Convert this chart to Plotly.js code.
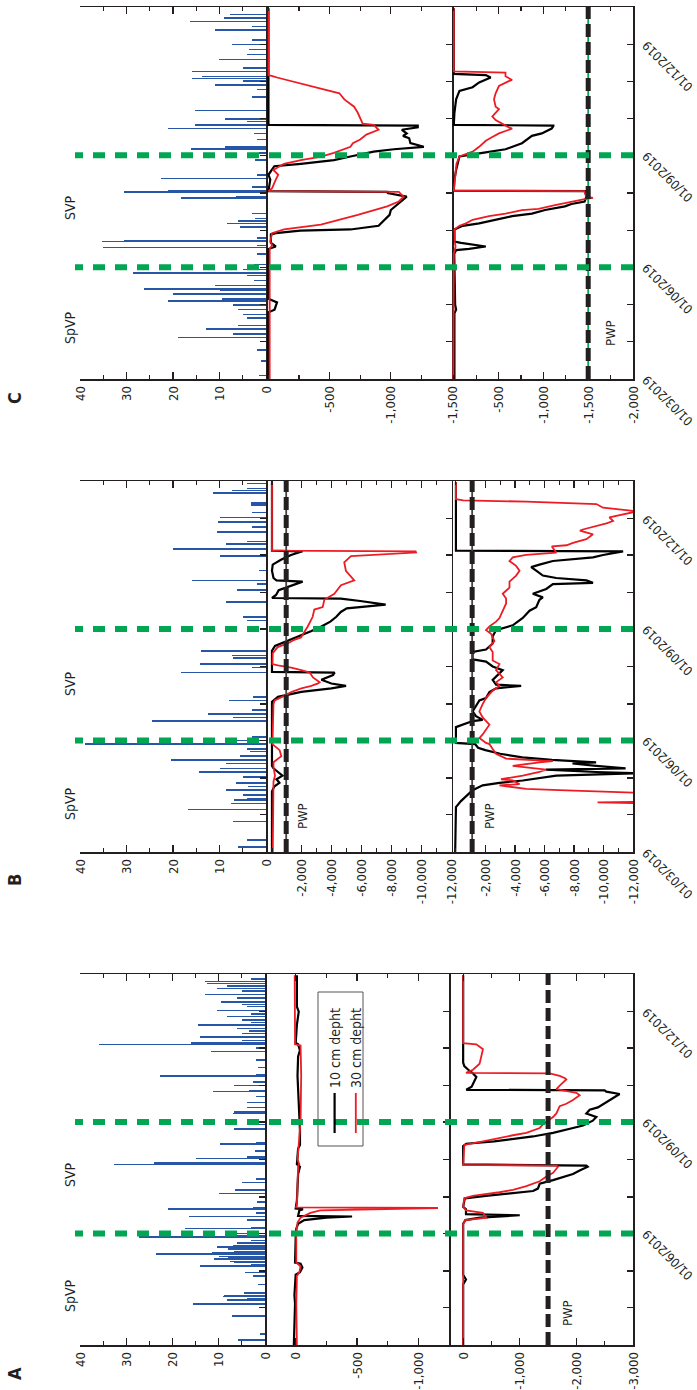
<!DOCTYPE html>
<html><head><meta charset="utf-8">
<script src="https://cdn.plot.ly/plotly-3.0.1.min.js"></script>
<style>
html,body{margin:0;padding:0;width:697px;height:1390px;overflow:hidden;background:#fff;}
#chart{position:absolute;left:0;top:0;width:1390px;height:697px;transform-origin:0 0;transform:translate(0px,1390px) rotate(-90deg);}
</style></head><body><div id="chart"></div>
<script>
// ---------------- DATA ----------------
const monthTicks = ['2019-03-01','2019-04-01','2019-05-01','2019-06-01','2019-07-01','2019-08-01','2019-09-01','2019-10-01','2019-11-01','2019-12-01','2020-01-01'];
const dateTickVals = ['2019-03-01','2019-06-01','2019-09-01','2019-12-01'];
const dateTickText = ['01/03/2019','01/06/2019','01/09/2019','01/12/2019'];
const periodDates = ['2019-06-01','2019-09-01'];
const periodLabels = ['SpVP','SVP'];

const rainTickVals = [0,10,20,30,40];
const rainTickText = ['0','10','20','30','40'];
const aMidTickVals = [0,-500,-1000];
const aMidTickText = ['0','-500','-1,000'];
const aBotTickVals = [0,-1000,-2000,-3000];
const aBotTickText = ['0','-1,000','-2,000','-3,000'];
const bTickVals = [-2000,-4000,-6000,-8000,-10000,-12000];
const bTickText = ['-2,000','-4,000','-6,000','-8,000','-10,000','-12,000'];
const cMidTickVals = [-500,-1000,-1500];
const cMidTickText = ['-500','-1,000','-1,500'];
const cBotTickVals = [-500,-1000,-1500,-2000];
const cBotTickText = ['-500','-1,000','-1,500','-2,000'];

// PWP reference values (kPa) as drawn
const pwpA_bot = -1500;
const pwpB_mid = -950;
const pwpB_bot = -1100;
const pwpC_bot = -1500;

// Rain (mm)
const rainA_dates = ['2019-03-05','2019-03-10','2019-03-25','2019-04-04','2019-04-07','2019-04-08','2019-04-10','2019-04-11','2019-04-13','2019-04-20','2019-04-27','2019-04-30','2019-05-05','2019-05-06','2019-05-08','2019-05-09','2019-05-11','2019-05-12','2019-05-13','2019-05-15','2019-05-16','2019-05-17','2019-05-19','2019-05-21','2019-05-22','2019-05-24','2019-05-26','2019-05-29','2019-05-30','2019-06-01','2019-06-05','2019-06-06','2019-06-12','2019-06-15','2019-06-18','2019-06-21','2019-06-22','2019-06-27','2019-07-04','2019-07-07','2019-07-13','2019-07-16','2019-07-28','2019-07-29','2019-08-02','2019-08-03','2019-08-08','2019-08-14','2019-08-15','2019-08-26','2019-08-30','2019-09-08','2019-09-09','2019-09-13','2019-09-17','2019-09-22','2019-09-26','2019-09-27','2019-10-01','2019-10-04','2019-10-09','2019-10-10','2019-10-16','2019-10-22','2019-10-29','2019-11-01','2019-11-04','2019-11-05','2019-11-07','2019-11-10','2019-11-13','2019-11-15','2019-11-17','2019-11-20','2019-11-22','2019-11-24','2019-11-27','2019-11-29','2019-12-02','2019-12-05','2019-12-07','2019-12-09','2019-12-12','2019-12-15','2019-12-18','2019-12-20','2019-12-22','2019-12-24','2019-12-26','2019-12-28'];
const rainA_mm = [5.8,1.0,7.2,15.6,8.3,4.0,9.1,8.8,4.5,1.5,2.5,4.3,14.0,3.0,6.8,7.5,11.0,8.0,10.0,23.5,11.5,6.8,8.0,10.4,7.0,6.0,3.0,27.3,7.0,6.8,17.4,3.0,4.0,16.5,2.0,20.9,2.5,1.8,10.0,6.5,5.0,2.0,32.7,23.9,14.9,4.0,2.2,9.7,2.0,6.6,2.0,7.0,6.8,4.0,3.8,2.0,11.3,3.5,6.8,2.5,22.7,2.0,1.5,2.0,11.7,2.0,36.0,16.0,5.0,14.0,5.0,3.5,6.0,14.4,3.0,5.0,8.3,3.0,10.4,4.0,5.0,9.6,6.0,13.0,5.0,10.4,8.2,12.6,13.0,3.0];

const rainB_dates = ['2019-03-05','2019-03-11','2019-03-26','2019-04-05','2019-04-10','2019-04-13','2019-04-14','2019-04-17','2019-04-21','2019-04-24','2019-04-27','2019-05-02','2019-05-06','2019-05-09','2019-05-13','2019-05-16','2019-05-19','2019-05-23','2019-05-25','2019-05-29','2019-06-01','2019-06-04','2019-06-17','2019-06-20','2019-06-23','2019-06-26','2019-07-04','2019-07-07','2019-07-27','2019-07-31','2019-08-03','2019-08-08','2019-08-10','2019-08-14','2019-09-08','2019-09-11','2019-09-23','2019-10-03','2019-10-08','2019-10-11','2019-10-19','2019-10-31','2019-11-06','2019-11-10','2019-11-12','2019-11-20','2019-11-24','2019-11-28','2019-12-02','2019-12-06','2019-12-12','2019-12-14','2019-12-22','2019-12-24','2019-12-26','2019-12-30'];
const rainB_mm = [6.0,4.0,7.0,16.8,7.5,6.8,4.0,5.0,8.5,3.8,6.5,5.0,14.4,10.0,8.5,20.4,5.5,3.5,4.0,38.9,6.5,3.0,24.6,7.0,12.5,3.0,8.0,2.7,18.2,3.0,14.3,7.0,7.4,14.0,4.0,5.0,8.6,6.3,2.0,15.9,1.5,10.0,19.9,8.5,4.0,10.5,3.0,10.3,10.0,3.0,3.2,3.2,11.4,7.4,4.0,4.0];

const rainC_dates = ['2019-03-04','2019-03-16','2019-03-25','2019-04-04','2019-04-07','2019-04-11','2019-04-14','2019-04-20','2019-04-23','2019-04-27','2019-05-01','2019-05-04','2019-05-06','2019-05-10','2019-05-13','2019-05-14','2019-05-17','2019-05-21','2019-05-25','2019-05-27','2019-05-30','2019-06-03','2019-06-12','2019-06-17','2019-06-19','2019-06-22','2019-06-23','2019-06-25','2019-07-04','2019-07-07','2019-07-09','2019-07-11','2019-07-15','2019-07-28','2019-07-29','2019-08-02','2019-08-03','2019-08-06','2019-08-13','2019-08-16','2019-08-28','2019-09-03','2019-09-06','2019-09-08','2019-09-14','2019-09-19','2019-09-23','2019-09-26','2019-09-29','2019-10-01','2019-10-08','2019-10-19','2019-10-25','2019-10-29','2019-11-01','2019-11-03','2019-11-05','2019-11-09','2019-11-12','2019-11-19','2019-11-23','2019-11-27','2019-12-01','2019-12-05','2019-12-13','2019-12-16','2019-12-20','2019-12-23','2019-12-26'];
const rainC_mm = [1.5,1.0,2.0,18.9,7.0,12.8,6.0,4.0,5.0,6.0,7.0,21.0,9.5,19.9,10.0,26.2,11.0,2.6,4.0,28.7,5.0,2.5,2.0,35.0,2.0,35.2,30.5,2.0,5.5,8.4,6.0,2.3,3.0,18.3,6.5,30.5,21.1,3.0,22.5,2.0,2.3,1.5,16.2,8.8,2.0,2.5,21.1,15.3,4.0,8.8,15.3,3.1,2.0,11.0,5.0,16.0,13.8,16.0,5.0,10.2,4.0,3.7,7.3,3.0,11.0,3.0,16.4,9.0,7.8];

// Soil water potential (kPa) - panel A
const A_mid10_dates = ['2019-03-01','2019-03-20','2019-04-04','2019-04-11','2019-04-28','2019-04-30','2019-05-04','2019-05-07','2019-05-08','2019-05-28','2019-06-05','2019-06-09','2019-06-12','2019-06-14','2019-06-15','2019-06-15 12:00','2019-06-20','2019-06-21','2019-06-21 12:00','2019-06-28','2019-07-20','2019-07-26','2019-07-28','2019-08-10','2019-08-13','2019-08-25','2019-09-10','2019-09-26','2019-10-09','2019-10-25','2019-10-30','2019-11-04','2019-11-05','2019-11-20','2019-12-01','2019-12-05','2019-12-31'];
const A_mid10_kPa = [15,10,5,10,0,-35,-55,-40,5,0,-5,-20,-70,-250,-460,-20,-30,-60,0,-10,-20,-35,-10,-20,-35,-35,-30,-20,-15,-20,-35,-20,0,-10,-25,-10,-10];
const A_mid30_dates = ['2019-03-01','2019-04-04','2019-04-27','2019-04-30','2019-05-05','2019-05-08','2019-06-01','2019-06-10','2019-06-14','2019-06-18','2019-06-20','2019-06-21','2019-06-22','2019-06-22 12:00','2019-06-24','2019-07-27','2019-07-28','2019-08-01','2019-09-01','2019-10-10','2019-11-03','2019-11-04','2019-12-31'];
const A_mid30_kPa = [-10,-5,-10,-30,-40,-5,-5,-15,-40,-120,-200,-600,-1160,0,-10,-20,-30,-15,-40,-45,-40,5,8];
const A_bot10_dates = ['2019-03-01','2019-04-20','2019-04-24','2019-04-28','2019-06-09','2019-06-12','2019-06-14','2019-06-16','2019-06-17','2019-06-21','2019-06-23','2019-06-30','2019-07-02','2019-07-04','2019-07-06','2019-07-08','2019-07-12','2019-07-15','2019-07-18','2019-07-20','2019-07-23','2019-07-26','2019-07-27','2019-07-28','2019-08-12','2019-08-14','2019-08-16','2019-08-18','2019-08-20','2019-08-21','2019-08-23','2019-08-27','2019-08-29','2019-09-02','2019-09-05','2019-09-08','2019-09-11','2019-09-13','2019-09-17','2019-09-22','2019-09-24','2019-09-26','2019-09-27','2019-09-27 12:00','2019-09-30','2019-10-08','2019-10-11','2019-10-14','2019-10-17','2019-10-20','2019-12-31'];
const A_bot10_kPa = [0,0,-50,0,0,-40,-300,-1000,-50,-50,0,-30,-400,-880,-1234,-1320,-1352,-1588,-1823,-1940,-2058,-2200,-2176,0,0,-55,-550,-940,-1234,-1352,-1588,-1940,-2117,-2290,-2352,-2176,-2235,-2380,-2528,-2705,-2764,-2528,-2500,-55,-150,-233,-174,-90,-20,0,0];
const A_bot30_dates = ['2019-03-01','2019-06-09','2019-06-12','2019-06-14','2019-06-16','2019-06-18','2019-06-20','2019-06-23','2019-06-30','2019-07-02','2019-07-05','2019-07-07','2019-07-10','2019-07-14','2019-07-18','2019-07-21','2019-07-26','2019-07-27','2019-07-27 12:00','2019-08-13','2019-08-16','2019-08-19','2019-08-21','2019-08-23','2019-08-27','2019-08-30','2019-09-05','2019-09-08','2019-09-14','2019-09-16','2019-09-19','2019-09-23','2019-09-25','2019-09-28','2019-10-01','2019-10-06','2019-10-07','2019-10-09','2019-10-11','2019-10-11 12:00','2019-10-14','2019-10-19','2019-10-31','2019-11-04','2019-11-05','2019-12-31'];
const A_bot30_kPa = [0,0,-40,-410,-380,-350,-50,0,-20,-170,-640,-880,-1116,-1352,-1470,-1588,-1676,-1647,0,-20,-350,-644,-880,-1116,-1352,-1411,-1588,-1647,-1705,-1823,-1940,-2058,-2000,-1647,-1705,-1823,-1800,-1705,-1530,-50,-174,-290,-350,-233,0,0];

// Panel B
const B_mid10_dates = ['2019-03-01','2019-04-20','2019-04-24','2019-04-27','2019-04-30','2019-05-03','2019-05-06','2019-05-09','2019-05-11','2019-07-03','2019-07-07','2019-07-11','2019-07-14','2019-07-16','2019-07-18','2019-07-21','2019-07-25','2019-07-27','2019-07-27 12:00','2019-08-14','2019-08-18','2019-08-22','2019-08-26','2019-08-30','2019-09-03','2019-09-07','2019-09-11','2019-09-15','2019-09-18','2019-09-21','2019-09-24','2019-09-26','2019-09-26 12:00','2019-09-29','2019-10-03','2019-10-10','2019-10-11','2019-10-13','2019-10-19','2019-10-24','2019-10-28','2019-11-01','2019-11-04','2019-11-04 12:00','2019-12-31'];
const B_mid10_kPa = [0,0,-150,-500,-300,-700,-400,-100,0,0,-400,-1960,-3970,-4950,-3970,-3300,-4080,-4190,0,0,-200,-1000,-1900,-2600,-3300,-3900,-4300,-4600,-5000,-7600,-5900,-4600,0,-270,-450,-2050,-300,-100,0,-50,-600,-1270,-2050,0,0];
const B_mid30_dates = ['2019-03-01','2019-04-20','2019-04-28','2019-05-03','2019-05-10','2019-05-14','2019-05-16','2019-05-19','2019-05-24','2019-05-28','2019-05-29','2019-07-01','2019-07-04','2019-07-08','2019-07-11','2019-07-14','2019-07-16','2019-07-18','2019-07-19','2019-07-23','2019-07-27','2019-07-29','2019-07-31','2019-08-02','2019-08-03','2019-08-12','2019-08-17','2019-08-20','2019-08-23','2019-08-25','2019-09-03','2019-09-11','2019-09-17','2019-09-19','2019-09-25','2019-09-30','2019-10-07','2019-10-11','2019-10-19','2019-10-26','2019-10-31','2019-11-03','2019-11-04','2019-11-04 12:00','2019-12-31'];
const B_mid30_kPa = [-50,-50,-100,-200,-100,-100,-300,-625,-510,-180,-30,-100,-180,-850,-1290,-1960,-2630,-3080,-3190,-2740,-2520,-1960,-1290,-400,-30,-50,-380,-1050,-1490,-1940,-2390,-2720,-2830,-3390,-3500,-4170,-4610,-5500,-4940,-4830,-5280,-9630,-9600,0,0];
const B_bot10_dates = ['2019-03-01','2019-04-07','2019-04-12','2019-04-21','2019-04-25','2019-04-27','2019-04-29','2019-05-02','2019-05-03','2019-05-05','2019-05-06','2019-05-08','2019-05-09','2019-05-11','2019-05-13','2019-05-14','2019-05-16','2019-05-18','2019-05-21','2019-05-24','2019-05-26','2019-05-29','2019-05-30','2019-06-12','2019-06-13','2019-06-17','2019-06-18','2019-06-21','2019-06-25','2019-06-29','2019-07-04','2019-07-06','2019-07-11','2019-07-14','2019-07-16','2019-07-17','2019-07-21','2019-07-29','2019-08-01','2019-08-05','2019-08-07','2019-08-13','2019-08-15','2019-08-20','2019-08-26','2019-08-31','2019-09-04','2019-09-10','2019-09-16','2019-09-19','2019-09-25','2019-09-27','2019-09-30','2019-10-04','2019-10-08','2019-10-09','2019-10-11','2019-10-13','2019-10-15','2019-10-19','2019-10-22','2019-10-24','2019-10-27','2019-10-30','2019-11-01','2019-11-04','2019-11-04 12:00','2019-12-31'];
const B_bot10_kPa = [50,0,-340,-1130,-1810,-2950,-4530,-6120,-6800,-12500,-9500,-6100,-11500,-9500,-7900,-9500,-6500,-4500,-3000,-2000,-1500,-1300,0,0,-230,-1130,-1810,-1360,-1130,-1360,-1590,-2040,-2270,-2720,-4420,-2720,-2490,-3170,-2490,-2040,-1130,-1130,-2040,-2490,-2490,-2720,-3850,-4530,-4990,-5440,-5660,-5890,-5210,-6120,-6570,-9290,-8840,-6800,-5890,-5440,-5100,-5660,-6570,-9290,-9970,-11330,0,0];
const B_bot30_dates = ['2019-03-01','2019-04-10','2019-04-11','2019-04-11 12:00','2019-04-18','2019-04-19','2019-04-21','2019-04-22','2019-04-25','2019-04-26','2019-04-29','2019-04-30','2019-05-03','2019-05-06','2019-05-08','2019-05-10','2019-05-11','2019-05-14','2019-05-15','2019-05-17','2019-05-21','2019-05-25','2019-05-29','2019-05-30','2019-06-03','2019-06-06','2019-06-14','2019-06-20','2019-06-25','2019-07-01','2019-07-06','2019-07-12','2019-07-16','2019-07-19','2019-07-23','2019-07-29','2019-08-03','2019-08-06','2019-08-13','2019-08-17','2019-08-22','2019-08-28','2019-08-31','2019-09-03','2019-09-07','2019-09-10','2019-09-16','2019-09-22','2019-09-26','2019-09-30','2019-10-05','2019-10-10','2019-10-15','2019-10-19','2019-10-23','2019-10-27','2019-10-30','2019-11-01','2019-11-03','2019-11-08','2019-11-09','2019-11-11','2019-11-14','2019-11-18','2019-11-21','2019-11-22','2019-11-27','2019-11-29','2019-12-02','2019-12-07','2019-12-10','2019-12-13','2019-12-15','2019-12-16','2019-12-17','2019-12-31'];
const B_bot30_kPa = [-13500,-13500,-9600,-13500,-13500,-12000,-7000,-4760,-2950,-4310,-3850,-3060,-4530,-5660,-6120,-4760,-3850,-5660,-6570,-3400,-2720,-2490,-2270,-2040,-1590,-1810,-2270,-1810,-1590,-1810,-2040,-2490,-2950,-2720,-3170,-2720,-2950,-2490,-2490,-2270,-2610,-2380,-2040,-2270,-2720,-2950,-3170,-3400,-3400,-3170,-3630,-3630,-4080,-4310,-4080,-3630,-3850,-4760,-6800,-6500,-7500,-7930,-8840,-9290,-8400,-8600,-10200,-10650,-10400,-12300,-9970,-9520,-4760,-500,0,0];

// Panel C
const C_mid10_dates = ['2019-03-01','2019-04-25','2019-04-27','2019-05-03','2019-05-06','2019-06-16','2019-06-18','2019-06-21','2019-06-28','2019-06-29','2019-07-01','2019-07-02','2019-07-05','2019-07-10','2019-07-14','2019-07-18','2019-07-23','2019-07-26','2019-07-29','2019-08-01','2019-08-02','2019-08-02 12:00','2019-08-12','2019-08-16','2019-08-20','2019-08-23','2019-08-25','2019-08-28','2019-08-31','2019-09-04','2019-09-06','2019-09-08','2019-09-11','2019-09-15','2019-09-17','2019-09-19','2019-09-22','2019-09-24','2019-09-25 12:00','2019-09-26','2019-12-31'];
const C_mid10_kPa = [0,0,-50,-70,0,0,-60,-20,-20,-60,-260,-670,-900,-950,-990,-1000,-1060,-1100,-1130,-970,-980,0,-15,0,-30,-48,-265,-535,-670,-860,-1025,-1270,-1160,-1150,-1100,-1130,-1090,-1220,-1220,0,0];
const C_mid30_dates = ['2019-03-01','2019-06-16','2019-06-19','2019-06-22','2019-06-29','2019-07-02','2019-07-06','2019-07-10','2019-07-14','2019-07-21','2019-07-25','2019-07-29','2019-08-02','2019-08-02 12:00','2019-08-05','2019-08-12','2019-08-16','2019-08-20','2019-08-25','2019-08-28','2019-08-31','2019-09-03','2019-09-06','2019-09-08','2019-09-11','2019-09-14','2019-09-18','2019-09-22','2019-09-26','2019-09-27','2019-10-06','2019-10-11','2019-10-17','2019-10-22','2019-10-25','2019-10-30','2019-11-02','2019-11-04','2019-11-05','2019-11-06','2019-12-31'];
const C_mid30_kPa = [-10,-10,-30,-15,-30,-127,-428,-590,-730,-970,-1065,-1105,-1065,0,-30,-60,-80,-40,-127,-265,-430,-535,-620,-670,-690,-750,-800,-900,-860,-770,-730,-700,-620,-580,-460,-260,-130,-70,-40,0,0];
const C_bot10_dates = ['2019-03-01','2019-04-24','2019-04-27','2019-05-01','2019-06-12','2019-06-15','2019-06-16','2019-06-18','2019-06-21','2019-06-22','2019-07-02','2019-07-05','2019-07-07','2019-07-10','2019-07-13','2019-07-15','2019-07-18','2019-07-21','2019-07-23','2019-07-25','2019-07-29','2019-08-01','2019-08-02 12:00','2019-08-03','2019-08-12','2019-08-20','2019-08-31','2019-09-03','2019-09-06','2019-09-11','2019-09-17','2019-09-19','2019-09-23','2019-09-25','2019-09-25 12:00','2019-09-26','2019-10-06','2019-10-17','2019-10-24','2019-10-27','2019-10-31','2019-11-04','2019-11-06','2019-11-07','2019-12-31'];
const C_bot10_kPa = [-7,-7,-26,-15,-5,-26,-170,-357,-80,-7,-7,-100,-283,-467,-651,-872,-1019,-1240,-1313,-1460,-1479,-1470,-1470,0,-7,-26,-63,-320,-577,-761,-872,-982,-1092,-1111,-1111,0,-7,-26,-63,-210,-283,-412,-357,0,0];
const C_bot30_dates = ['2019-03-01','2019-06-12','2019-06-18','2019-06-22','2019-07-02','2019-07-05','2019-07-07','2019-07-10','2019-07-13','2019-07-15','2019-07-18','2019-07-19','2019-07-22','2019-07-25','2019-07-27','2019-07-28','2019-07-29','2019-08-02','2019-08-02 12:00','2019-08-03','2019-08-12','2019-08-25','2019-08-31','2019-09-04','2019-09-08','2019-09-13','2019-09-16','2019-09-19','2019-09-21','2019-09-23','2019-09-24','2019-09-27','2019-09-30','2019-10-03','2019-10-06','2019-10-09','2019-10-11','2019-10-17','2019-10-22','2019-10-28','2019-11-01','2019-11-02','2019-11-05','2019-11-08','2019-11-09','2019-12-31'];
const C_bot30_kPa = [5,0,-20,-10,-7,-63,-136,-210,-394,-577,-761,-945,-1130,-1313,-1460,-1553,-1479,-1460,-1460,0,-15,-30,-63,-210,-283,-357,-430,-504,-577,-651,-614,-541,-467,-430,-467,-504,-467,-449,-467,-504,-614,-651,-577,-577,0,0];

// ---------------- STYLE / LAYOUT ----------------
const W = 1390, H = 697;
const px = X => X / W;
const py = Y => 1 - Y / H;
const FONT = "'Liberation Sans Narrow','Arial Narrow','DejaVu Sans Condensed',sans-serif";
const INK = '#231f20';
const BLUE = '#2856a6';
const RED = '#ed1c24';
const GREEN = '#00a651';
const DAY = 86400000;

const panels = [
  {x0:45, x1:416, rain:[80,265], mid:[265,449], bot:[449,633], midR:[-1250,250], botR:[-3000,250],
   midT:[aMidTickVals,aMidTickText,250], botT:[aBotTickVals,aBotTickText,500], letter:'A', letterX:16,
   rainD:[rainA_dates,rainA_mm], mid10:[A_mid10_dates,A_mid10_kPa], mid30:[A_mid30_dates,A_mid30_kPa],
   bot10:[A_bot10_dates,A_bot10_kPa], bot30:[A_bot30_dates,A_bot30_kPa],
   labels:['2019-04-11','2019-07-20'], pwp:[[null,null],[pwpA_bot,'2019-03-27',-1840]], pwpUnder:null},
  {x0:538, x1:909, rain:[80,266], mid:[266,451.5], bot:[451.5,633], midR:[-12000,400], botR:[-12000,300],
   midT:[bTickVals,bTickText,1000], botT:[bTickVals,bTickText,1000], letter:'B', letterX:510,
   rainD:[rainB_dates,rainB_mm], mid10:[B_mid10_dates,B_mid10_kPa], mid30:[B_mid30_dates,B_mid30_kPa],
   bot10:[B_bot10_dates,B_bot10_kPa], bot30:[B_bot30_dates,B_bot30_kPa],
   labels:['2019-04-10','2019-07-18'], pwp:[[pwpB_mid,'2019-03-31',-2070],[pwpB_bot,'2019-03-31',-2270]], pwpUnder:'#444'},
  {x0:1011, x1:1383, rain:[80,266], mid:[266,452], bot:[452,633], midR:[-1500,20], botR:[-2000,20],
   midT:[cMidTickVals,cMidTickText,250], botT:[cBotTickVals,cBotTickText,250], letter:'C', letterX:992,
   rainD:[rainC_dates,rainC_mm], mid10:[C_mid10_dates,C_mid10_kPa], mid30:[C_mid30_dates,C_mid30_kPa],
   bot10:[C_bot10_dates,C_bot10_kPa], bot30:[C_bot30_dates,C_bot30_kPa],
   labels:['2019-04-12','2019-07-20'], pwp:[[null,null],[pwpC_bot,'2019-04-08',-1745]], pwpUnder:GREEN}
];

const sfx = n => n === 1 ? '' : String(n);
const tickFont = {family:FONT, size:13, color:INK};
const layout = {
  width:W, height:H, margin:{l:0,r:0,t:0,b:0}, paper_bgcolor:'#fff', plot_bgcolor:'rgba(0,0,0,0)',
  showlegend:true, bargap:0,
  legend:{x:px(252), y:py(319), xanchor:'left', yanchor:'top', bgcolor:'rgba(0,0,0,0)', borderwidth:0,
          font:{family:FONT, size:14, color:INK}, itemwidth:40, tracegroupgap:0},
  shapes:[], annotations:[]
};
const traces = [];
const monthText = monthTicks.map(d => { const i = dateTickVals.indexOf(d); return i >= 0 ? dateTickText[i] : ''; });

// legend box
layout.shapes.push({type:'rect', xref:'paper', yref:'paper', x0:px(244), x1:px(398), y0:py(363), y1:py(318),
  line:{color:'#555', width:1}, fillcolor:'#fff', layer:'above'});

panels.forEach((P, p) => {
  const nR = 3*p+1, nM = 3*p+2, nB = 3*p+3;
  const rows = [[nR, P.rain, [0,40], [rainTickVals, rainTickText, 5]],
                [nM, P.mid, P.midR, P.midT],
                [nB, P.bot, P.botR, P.botT]];
  rows.forEach(([n, yd, yr, tk], s) => {
    layout['xaxis'+sfx(n)] = {
      type:'date', domain:[px(P.x0), px(P.x1)], range:['2019-03-01','2020-01-01'], anchor:'y'+sfx(n),
      showline:true, linecolor:INK, linewidth:1.5, mirror:false,
      ticks:'inside', ticklen:6, tickwidth:1.2, tickcolor:INK,
      tickmode:'array', tickvals:monthTicks, ticktext:monthText,
      showticklabels: s === 2, tickangle:-45, tickfont:{family:FONT, size:12.5, color:INK},
      showgrid:false, zeroline:false, fixedrange:true
    };
    layout['yaxis'+sfx(n)] = {
      domain:[py(yd[1]), py(yd[0])], range:yr, anchor:'x'+sfx(n),
      showline:true, mirror:'ticks', linecolor:INK, linewidth:1.5,
      ticks:'inside', ticklen:7, tickwidth:1.2, tickcolor:INK,
      tickmode:'array', tickvals:tk[0], ticktext:tk[1], tickfont:tickFont, ticklabelstandoff:3,
      minor:{dtick:tk[2], tick0:0, ticks:'inside', ticklen:4, tickwidth:1.1, tickcolor:INK, showgrid:false},
      showgrid:false, zeroline:false, fixedrange:true
    };
  });
  // rain bars
  traces.push({type:'bar', x:P.rainD[0], y:P.rainD[1], xaxis:'x'+sfx(nR), yaxis:'y'+sfx(nR),
    width:P.rainD[0].map(() => 1.25*DAY), marker:{color:BLUE, line:{width:0}}, showlegend:false, hoverinfo:'skip'});
  // lines
  [[nM, P.mid10, P.mid30], [nB, P.bot10, P.bot30]].forEach(([n, l10, l30], k) => {
    const lg = (p === 0 && k === 0);
    traces.push({type:'scatter', mode:'lines', x:l10[0], y:l10[1], xaxis:'x'+sfx(n), yaxis:'y'+sfx(n),
      line:{color:'#000', width:2.2}, name:'10 cm depht', showlegend:lg, hoverinfo:'skip'});
    traces.push({type:'scatter', mode:'lines', x:l30[0], y:l30[1], xaxis:'x'+sfx(n), yaxis:'y'+sfx(n),
      line:{color:RED, width:1.8}, name:'30 cm depht', showlegend:lg, hoverinfo:'skip'});
  });
  // PWP lines and labels
  [[nM, P.pwp[0]], [nB, P.pwp[1]]].forEach(([n, pw]) => {
    if (pw[0] === null) return;
    if (P.pwpUnder) layout.shapes.push({type:'line', xref:'x'+sfx(n)+' domain', yref:'y'+sfx(n), x0:0, x1:1, y0:pw[0], y1:pw[0],
      line:{color:P.pwpUnder, width:1.8}, layer:'above'});
    layout.shapes.push({type:'line', xref:'x'+sfx(n)+' domain', yref:'y'+sfx(n), x0:0, x1:1, y0:pw[0], y1:pw[0],
      line:{color:INK, width:5, dash:'13px,5px'}, layer:'above'});
    layout.annotations.push({xref:'x'+sfx(n), yref:'y'+sfx(n), x:pw[1], y:pw[2], text:'PWP', showarrow:false,
      xanchor:'center', yanchor:'middle', font:{family:FONT, size:13, color:INK}});
  });
  // green period separators
  periodDates.forEach(d => layout.shapes.push({type:'line', xref:'x'+sfx(nB), yref:'paper', x0:d, x1:d,
    y0:py(633), y1:py(75), line:{color:GREEN, width:6, dash:'12px,10px'}, layer:'above'}));
  // period labels
  periodLabels.forEach((t, i) => layout.annotations.push({xref:'x'+sfx(nB), yref:'paper', x:P.labels[i], y:py(70),
    text:t, showarrow:false, xanchor:'center', yanchor:'middle', font:{family:FONT, size:14, color:INK}}));
  // panel letter
  layout.annotations.push({xref:'paper', yref:'paper', x:px(P.letterX), y:py(15), text:'<b>'+P.letter+'</b>',
    showarrow:false, xanchor:'center', yanchor:'middle', font:{family:FONT, size:18, color:INK}});
});

Plotly.newPlot('chart', traces, layout, {staticPlot:true, displayModeBar:false});
</script></body></html>
